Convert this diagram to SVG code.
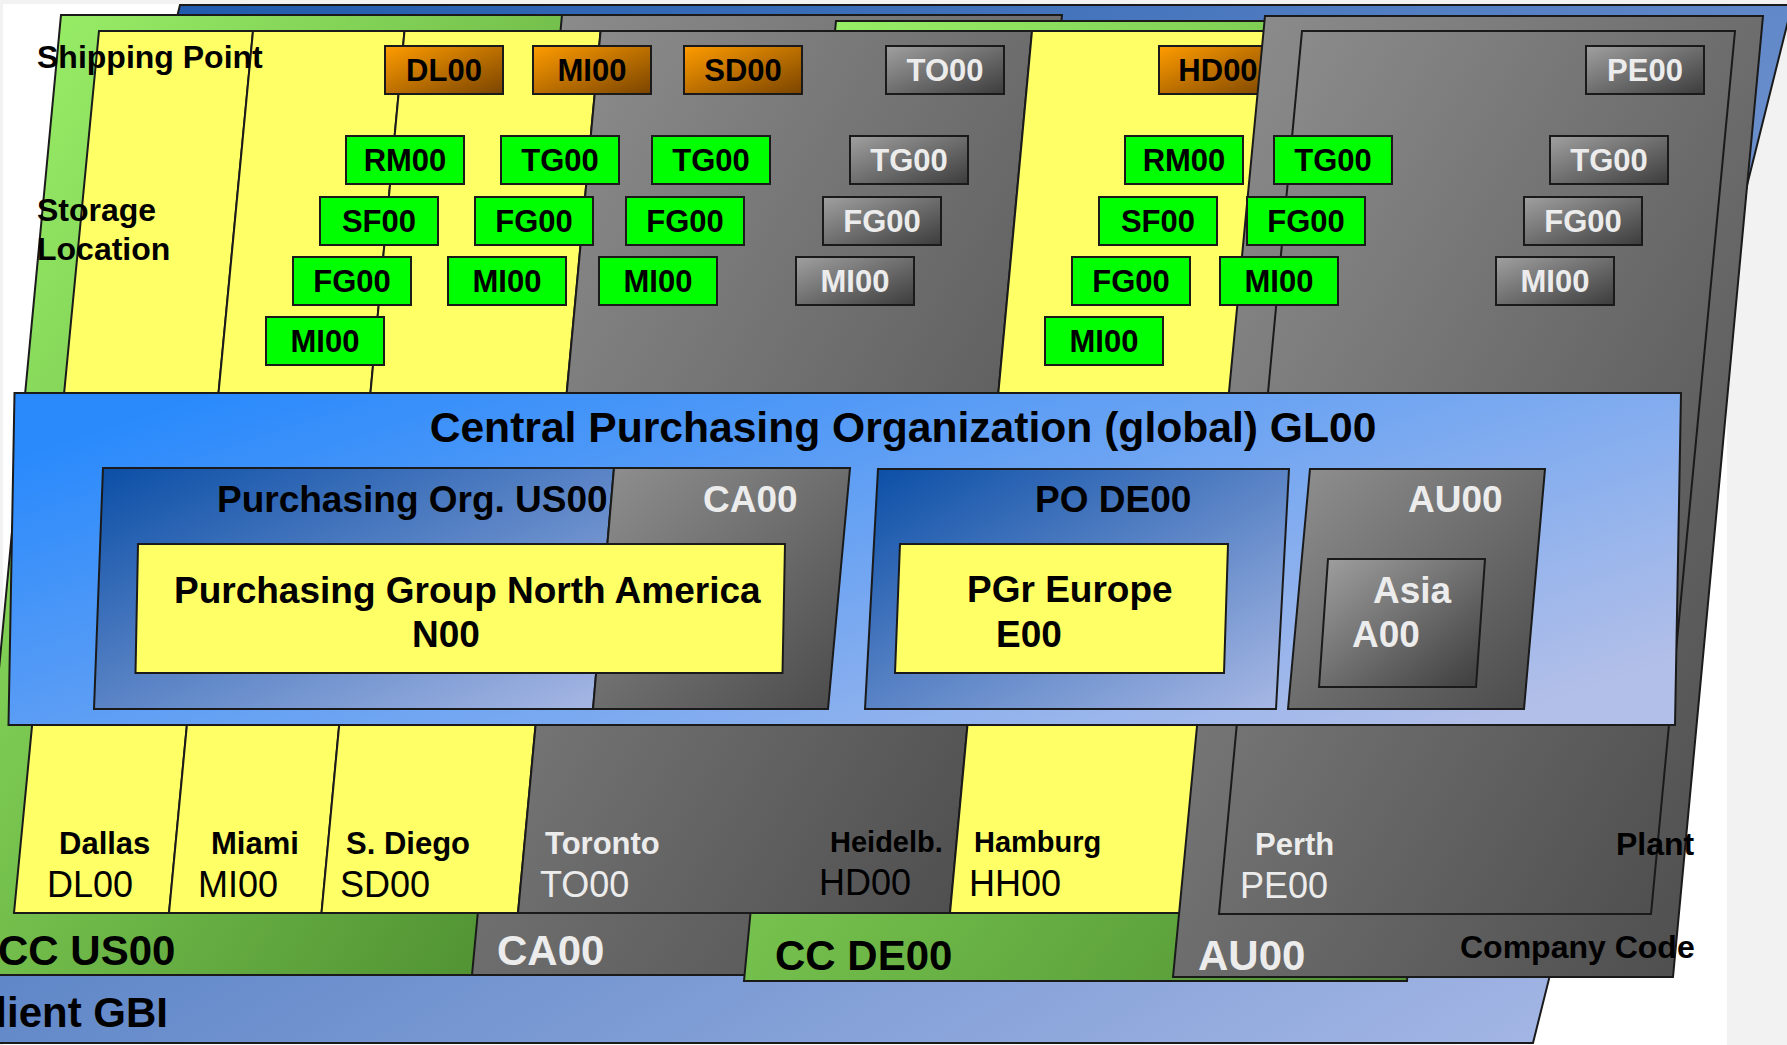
<svg xmlns="http://www.w3.org/2000/svg" width="1787" height="1045" viewBox="0 0 1787 1045">
<defs>
<linearGradient id="gClient" x1="0" y1="0" x2="1" y2="1"><stop offset="0" stop-color="#1553a8"/><stop offset="1" stop-color="#adbde9"/></linearGradient>
<linearGradient id="gGreen" x1="0" y1="0" x2="1" y2="1"><stop offset="0" stop-color="#9df46a"/><stop offset="1" stop-color="#4a8a2e"/></linearGradient>
<linearGradient id="gGray" x1="0" y1="0" x2="1" y2="1"><stop offset="0" stop-color="#909090"/><stop offset="1" stop-color="#4a4a4a"/></linearGradient>
<linearGradient id="gBox" x1="0" y1="0" x2="1" y2="1"><stop offset="0" stop-color="#a0a0a0"/><stop offset="1" stop-color="#3c3c3c"/></linearGradient>
<linearGradient id="gOrange" x1="0" y1="0" x2="1" y2="1"><stop offset="0" stop-color="#ff9c00"/><stop offset="1" stop-color="#7a4400"/></linearGradient>
<linearGradient id="gCentral" x1="0" y1="0.2" x2="1" y2="0.8"><stop offset="0" stop-color="#2a8afc"/><stop offset="1" stop-color="#b2bfe8"/></linearGradient>
<linearGradient id="gPO" x1="0" y1="0" x2="1" y2="1"><stop offset="0" stop-color="#0a4ea6"/><stop offset="1" stop-color="#a9b9e5"/></linearGradient>
</defs>
<style>
.o{stroke:#1a1a1a;stroke-width:2;stroke-linejoin:miter}
.t{font-family:"Liberation Sans",Arial,sans-serif;font-weight:bold;fill:#000}
.r{font-family:"Liberation Sans",Arial,sans-serif;font-weight:normal;fill:#000}
.w{fill:#ececec}
.yel{fill:#ffff66}
.sl{fill:#00ff00}
.sp{fill:url(#gOrange)}
.gb{fill:url(#gBox)}
.bx{font-size:31px;text-anchor:middle}
.big{font-size:42px}
.mid{font-size:37px}
.lab{font-size:32px}
.nm{font-size:31px}
.cd{font-size:36px}
</style>
<rect x="0" y="0" width="1787" height="1045" fill="#f2f2f2"/>
<rect x="3" y="4" width="1724" height="1041" fill="#ffffff"/>

<g id="client-gbi">
<polygon class="o" points="180,5 1792,5 1533,1043 -78,1043" fill="url(#gClient)"/>
<text class="t big" x="-35" y="1027">Client GBI</text>
</g>

<g id="cc-us00">
<polygon class="o" points="61,15 580,15 480,975 -30,975" fill="url(#gGreen)"/>
<text class="t big" x="-2" y="965">CC US00</text>
</g>
<g id="cc-ca00">
<polygon class="o" points="562,15 1062,15 972,975 472,975" fill="url(#gGray)"/>
<text class="t big w" x="497" y="965">CA00</text>
</g>
<g id="cc-de00">
<polygon class="o" points="836,21 1499,21 1407,981 744,981" fill="url(#gGreen)"/>
<text class="t big" x="775" y="970">CC DE00</text>
</g>

<g id="plant-dallas">
<polygon class="o yel" points="99,31 253,31 169,913 14,913"/>
<text class="t nm" x="59" y="854">Dallas</text>
<text class="r cd" x="47" y="897">DL00</text>
</g>
<g id="plant-miami">
<polygon class="o yel" points="253,31 404.5,31 321.5,913 169,913"/>
<text class="t nm" x="211" y="854">Miami</text>
<text class="r cd" x="198" y="897">MI00</text>
</g>
<g id="plant-sdiego">
<polygon class="o yel" points="404.5,31 600.6,31 518,913 321.5,913"/>
<text class="t nm" x="346" y="854">S. Diego</text>
<text class="r cd" x="340" y="897">SD00</text>
</g>
<g id="plant-toronto-heidelberg">
<polygon class="o" points="600.6,31 1032,31 950,913 518,913" fill="url(#gGray)"/>
<text class="t nm w" x="545" y="854">Toronto</text>
<text class="r cd w" x="540" y="897">TO00</text>
<text class="t" font-size="29" x="830" y="852">Heidelb.</text>
<text class="r cd" x="819" y="895">HD00</text>
</g>
<g id="plant-hamburg">
<polygon class="o yel" points="1032,31 1300,31 1216,913 950,913"/>
<text class="t" font-size="29" x="974" y="852">Hamburg</text>
<text class="r cd" x="969" y="896">HH00</text>
</g>

<g id="sp-hd00"><rect class="o sp" x="1159" y="46" width="118" height="48"/><text class="t bx" x="1218" y="81">HD00</text></g>

<g id="cc-au00">
<polygon class="o" points="1265,16 1763,16 1673,977 1173,977" fill="url(#gGray)"/>
<text class="t big w" x="1198" y="970">AU00</text>
</g>
<g id="plant-perth">
<polygon class="o" points="1302,31 1735,31 1651,914 1219,914" fill="url(#gGray)"/>
<text class="t nm w" x="1255" y="855">Perth</text>
<text class="r cd w" x="1240" y="898">PE00</text>
</g>

<g id="labels">
<text class="t lab" x="37" y="68">Shipping Point</text>
<text class="t lab" x="37" y="221">Storage</text>
<text class="t lab" x="37" y="260">Location</text>
<text class="t lab" x="1616" y="855">Plant</text>
<text class="t lab" x="1460" y="958">Company Code</text>
</g>

<g id="shipping-points">
<g id="sp-dl00"><rect class="o sp" x="385" y="46" width="118" height="48"/><text class="t bx" x="444" y="81">DL00</text></g>
<g id="sp-mi00"><rect class="o sp" x="533" y="46" width="118" height="48"/><text class="t bx" x="592" y="81">MI00</text></g>
<g id="sp-sd00"><rect class="o sp" x="684" y="46" width="118" height="48"/><text class="t bx" x="743" y="81">SD00</text></g>
<g id="sp-to00"><rect class="o gb" x="886" y="46" width="118" height="48"/><text class="t bx w" x="945" y="81">TO00</text></g>
<g id="sp-pe00"><rect class="o gb" x="1586" y="46" width="118" height="48"/><text class="t bx w" x="1645" y="81">PE00</text></g>
</g>

<g id="storage-locations">
<g id="sl-dl-rm00"><rect class="o sl" x="346" y="136" width="118" height="48"/><text class="t bx" x="405" y="171">RM00</text></g>
<g id="sl-dl-sf00"><rect class="o sl" x="320" y="197" width="118" height="48"/><text class="t bx" x="379" y="232">SF00</text></g>
<g id="sl-dl-fg00"><rect class="o sl" x="293" y="257" width="118" height="48"/><text class="t bx" x="352" y="292">FG00</text></g>
<g id="sl-dl-mi00"><rect class="o sl" x="266" y="317" width="118" height="48"/><text class="t bx" x="325" y="352">MI00</text></g>

<g id="sl-mi-tg00"><rect class="o sl" x="501" y="136" width="118" height="48"/><text class="t bx" x="560" y="171">TG00</text></g>
<g id="sl-mi-fg00"><rect class="o sl" x="475" y="197" width="118" height="48"/><text class="t bx" x="534" y="232">FG00</text></g>
<g id="sl-mi-mi00"><rect class="o sl" x="448" y="257" width="118" height="48"/><text class="t bx" x="507" y="292">MI00</text></g>

<g id="sl-sd-tg00"><rect class="o sl" x="652" y="136" width="118" height="48"/><text class="t bx" x="711" y="171">TG00</text></g>
<g id="sl-sd-fg00"><rect class="o sl" x="626" y="197" width="118" height="48"/><text class="t bx" x="685" y="232">FG00</text></g>
<g id="sl-sd-mi00"><rect class="o sl" x="599" y="257" width="118" height="48"/><text class="t bx" x="658" y="292">MI00</text></g>

<g id="sl-to-tg00"><rect class="o gb" x="850" y="136" width="118" height="48"/><text class="t bx w" x="909" y="171">TG00</text></g>
<g id="sl-to-fg00"><rect class="o gb" x="823" y="197" width="118" height="48"/><text class="t bx w" x="882" y="232">FG00</text></g>
<g id="sl-to-mi00"><rect class="o gb" x="796" y="257" width="118" height="48"/><text class="t bx w" x="855" y="292">MI00</text></g>

<g id="sl-hh-rm00"><rect class="o sl" x="1125" y="136" width="118" height="48"/><text class="t bx" x="1184" y="171">RM00</text></g>
<g id="sl-hh-sf00"><rect class="o sl" x="1099" y="197" width="118" height="48"/><text class="t bx" x="1158" y="232">SF00</text></g>
<g id="sl-hh-fg00"><rect class="o sl" x="1072" y="257" width="118" height="48"/><text class="t bx" x="1131" y="292">FG00</text></g>
<g id="sl-hh-mi00"><rect class="o sl" x="1045" y="317" width="118" height="48"/><text class="t bx" x="1104" y="352">MI00</text></g>

<g id="sl-hd-tg00"><rect class="o sl" x="1274" y="136" width="118" height="48"/><text class="t bx" x="1333" y="171">TG00</text></g>
<g id="sl-hd-fg00"><rect class="o sl" x="1247" y="197" width="118" height="48"/><text class="t bx" x="1306" y="232">FG00</text></g>
<g id="sl-hd-mi00"><rect class="o sl" x="1220" y="257" width="118" height="48"/><text class="t bx" x="1279" y="292">MI00</text></g>

<g id="sl-pe-tg00"><rect class="o gb" x="1550" y="136" width="118" height="48"/><text class="t bx w" x="1609" y="171">TG00</text></g>
<g id="sl-pe-fg00"><rect class="o gb" x="1524" y="197" width="118" height="48"/><text class="t bx w" x="1583" y="232">FG00</text></g>
<g id="sl-pe-mi00"><rect class="o gb" x="1496" y="257" width="118" height="48"/><text class="t bx w" x="1555" y="292">MI00</text></g>
</g>

<g id="central-purchasing-gl00">
<polygon class="o" points="14.5,393 1681,393 1675,725 8.5,725" fill="url(#gCentral)"/>
<text class="t" font-size="42.6" x="903" y="442" text-anchor="middle">Central Purchasing Organization (global) GL00</text>
</g>
<g id="po-us00">
<polygon class="o" points="103,468 614,468 593,709 94,709" fill="url(#gPO)"/>
<text class="t mid" x="217" y="512">Purchasing Org. US00</text>
</g>
<g id="po-ca00">
<polygon class="o" points="614,468 850,468 828,709 593,709" fill="url(#gGray)"/>
<text class="t mid w" x="703" y="512">CA00</text>
</g>
<g id="pgr-n00">
<polygon class="o yel" points="138,544 785,544 782.5,673 135.5,673"/>
<text class="t mid" x="174" y="603">Purchasing Group North America</text>
<text class="t mid" x="412" y="647">N00</text>
</g>
<g id="po-de00">
<polygon class="o" points="878,469 1289,469 1276,709 865,709" fill="url(#gPO)"/>
<text class="t mid" x="1035" y="512">PO DE00</text>
</g>
<g id="pgr-e00">
<polygon class="o yel" points="900,544 1228,544 1224,673 895,673"/>
<text class="t mid" x="967" y="602">PGr Europe</text>
<text class="t mid" x="996" y="647">E00</text>
</g>
<g id="po-au00">
<polygon class="o" points="1310,469 1545,469 1524,709 1288,709" fill="url(#gGray)"/>
<text class="t mid w" x="1408" y="512">AU00</text>
</g>
<g id="pgr-a00">
<polygon class="o" points="1328,559 1485,559 1476,687 1319,687" fill="url(#gBox)"/>
<text class="t mid w" x="1373" y="603">Asia</text>
<text class="t mid w" x="1352" y="647">A00</text>
</g>
</svg>
